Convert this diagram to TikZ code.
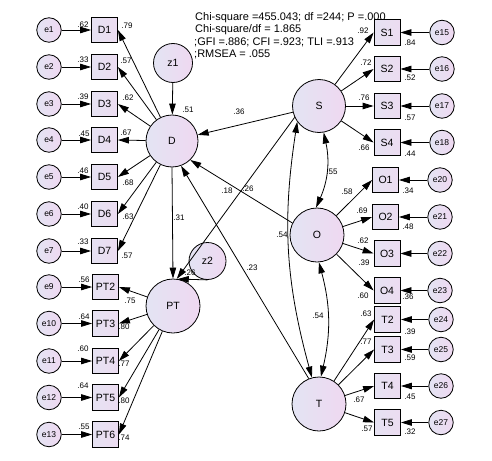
\documentclass[tikz,border=0pt]{standalone}
\usepackage{fontspec}
\setmainfont{Liberation Sans}
\usetikzlibrary{arrows.meta}
\definecolor{lvL}{HTML}{E3E4F3}
\definecolor{lvR}{HTML}{EFD8F1}
\definecolor{bxL}{HTML}{E6E2F2}
\definecolor{bxR}{HTML}{ECDCF1}
\begin{document}
\begin{tikzpicture}[x=1pt,y=-1pt,
  lat/.style={circle,draw,line width=0.8pt,inner sep=0pt,left color=lvL,right color=lvR,font=\fontsize{10.5}{12}\selectfont},
  obs/.style={rectangle,draw,line width=0.8pt,inner sep=0pt,minimum width=26pt,minimum height=25.5pt,left color=bxL,right color=bxR,font=\fontsize{10.5}{12}\selectfont},
  err/.style={circle,draw,line width=0.8pt,inner sep=0pt,minimum size=24.5pt,left color=lvL,right color=lvR,font=\fontsize{8.5}{10}\selectfont},
  lbl/.style={inner sep=0pt,font=\fontsize{8}{9}\selectfont},
  fitline/.style={inner sep=0pt,anchor=base west,font=\fontsize{11}{12}\selectfont},
  reg/.style={line width=0.8pt,-{Triangle[length=11pt,width=6.5pt]}},
  cov/.style={line width=0.8pt,{Triangle[length=11pt,width=6.5pt]}-{Triangle[length=11pt,width=6.5pt]}},
]
\useasboundingbox (0,0) rectangle (492,460);

% fit statistics
\node[fitline] (t1) at (195,20.5) {Chi-square =455.043; df =244; P =.000};
\node[fitline] (t2) at (195,33) {Chi-square/df = 1.865};
\node[fitline] (t3) at (194,45.5) {;GFI =.886; CFI =.923; TLI =.913};
\node[fitline] (t4) at (194,57.5) {;RMSEA = .055};

% latent variables
\node[lat,minimum size=52pt] (D) at (172,141) {D};
\node[lat,minimum size=54pt] (PT) at (173,306) {PT};
\node[lat,minimum size=53pt] (S) at (319,106) {S};
\node[lat,minimum size=54pt] (O) at (317,235) {O};
\node[lat,minimum size=54pt] (T) at (319,404) {T};
\node[lat,minimum size=39pt] (z1) at (173,63) {z1};
\node[lat,minimum size=37pt] (z2) at (207.5,261) {z2};

% D indicators
\node[obs] (D1) at (104.5,30) {D1};
\node[obs] (D2) at (104.5,67) {D2};
\node[obs] (D3) at (104.5,104) {D3};
\node[obs] (D4) at (104.5,140) {D4};
\node[obs] (D5) at (104.5,177) {D5};
\node[obs] (D6) at (104.5,214) {D6};
\node[obs] (D7) at (104.5,251) {D7};
\node[err] (e1) at (49,30) {e1};
\node[err] (e2) at (49,67) {e2};
\node[err] (e3) at (49,104) {e3};
\node[err] (e4) at (49,140) {e4};
\node[err] (e5) at (49,177) {e5};
\node[err] (e6) at (49,214) {e6};
\node[err] (e7) at (49,251) {e7};

% PT indicators
\node[obs] (PT2) at (105.5,287) {PT2};
\node[obs] (PT3) at (105.5,323.5) {PT3};
\node[obs] (PT4) at (105.5,361) {PT4};
\node[obs] (PT5) at (105.5,397.5) {PT5};
\node[obs] (PT6) at (105.5,434.5) {PT6};
\node[err] (e9) at (49,287) {e9};
\node[err] (e10) at (49,323.5) {e10};
\node[err] (e11) at (49,361) {e11};
\node[err] (e12) at (49,397.5) {e12};
\node[err] (e13) at (49,434.5) {e13};

% S indicators
\node[obs] (S1) at (387,32.5) {S1};
\node[obs] (S2) at (387,69) {S2};
\node[obs] (S3) at (387,106) {S3};
\node[obs] (S4) at (387,142.5) {S4};
\node[err] (e15) at (442,32.5) {e15};
\node[err] (e16) at (442,69) {e16};
\node[err] (e17) at (442,106) {e17};
\node[err] (e18) at (442,142.5) {e18};

% O indicators
\node[obs] (O1) at (385.5,180) {O1};
\node[obs] (O2) at (385.5,217) {O2};
\node[obs] (O3) at (387,253.5) {O3};
\node[obs] (O4) at (387,290.5) {O4};
\node[err] (e20) at (440,180) {e20};
\node[err] (e21) at (440,217) {e21};
\node[err] (e22) at (440,253.5) {e22};
\node[err] (e23) at (440,290.5) {e23};

% T indicators
\node[obs] (T2) at (387.5,319.5) {T2};
\node[obs] (T3) at (387.5,349.5) {T3};
\node[obs] (T4) at (387.5,386) {T4};
\node[obs] (T5) at (387.5,422.5) {T5};
\node[err] (e24) at (441,319.5) {e24};
\node[err] (e25) at (441,349.5) {e25};
\node[err] (e26) at (441,386) {e26};
\node[err] (e27) at (441,422.5) {e27};

% error arrows
\foreach \e/\b in {e1/D1,e2/D2,e3/D3,e4/D4,e5/D5,e6/D6,e7/D7,e9/PT2,e10/PT3,e11/PT4,e12/PT5,e13/PT6,
  e15/S1,e16/S2,e17/S3,e18/S4,e20/O1,e21/O2,e22/O3,e23/O4,e24/T2,e25/T3,e26/T4,e27/T5}
  \draw[reg] (\e) -- (\b);

% loadings
\foreach \b in {D1,D2,D3,D4,D5,D6,D7} \draw[reg] (D) -- (\b.east);
\foreach \b in {PT2,PT3,PT4,PT5,PT6} \draw[reg] (PT) -- (\b.east);
\foreach \b in {S1,S2,S3,S4} \draw[reg] (S) -- (\b.west);
\foreach \b in {O1,O2,O3,O4} \draw[reg] (O) -- (\b.west);
\foreach \b in {T2,T3,T4,T5} \draw[reg] (T) -- (\b.west);

% structural paths
\draw[reg] (z1) -- (D);
\draw[reg] (S) -- (D);
\draw[reg] (O.154) -- (D.-46);
\draw[reg] (T.112) -- (D.-70);
\draw[reg] (D.south) -- (PT.north);
\draw[reg] (S.-155) -- (PT.82);
\draw[reg] (z2.south) -- (PT.80);

% covariances
\draw[cov] (S.-80) to[bend left=18] (O.92);
\draw[cov] (O.-86) to[bend left=14] (T.86);
\draw[cov] (S.216) to[bend right=12] (T.105);

% labels: D side
\node[lbl] (a1) at (127,26) {.79};
\node[lbl] (a2) at (126,61) {.57};
\node[lbl] (a3) at (128,98) {.62};
\node[lbl] (a4) at (126,133) {.67};
\node[lbl] (a5) at (128,183) {.68};
\node[lbl] (a6) at (128,217) {.63};
\node[lbl] (a7) at (127,256) {.57};
\node[lbl] (r1) at (83,25) {.62};
\node[lbl] (r2) at (83,60) {.33};
\node[lbl] (r3) at (83,97) {.39};
\node[lbl] (r4) at (84,134) {.45};
\node[lbl] (r5) at (83,171) {.46};
\node[lbl] (r6) at (83,207) {.40};
\node[lbl] (r7) at (83,242) {.33};
% PT side
\node[lbl] (b2) at (130,301) {.75};
\node[lbl] (b3) at (124,327) {.80};
\node[lbl] (b4) at (124,364) {.77};
\node[lbl] (b5) at (124,401) {.80};
\node[lbl] (b6) at (124,438) {.74};
\node[lbl] (q2) at (84,280) {.56};
\node[lbl] (q3) at (84,317) {.64};
\node[lbl] (q4) at (83,349) {.60};
\node[lbl] (q5) at (83,386) {.64};
\node[lbl] (q6) at (84,427) {.55};
% structural labels
\node[lbl] (c1) at (188,110) {.51};
\node[lbl] (c2) at (239,112) {.36};
\node[lbl] (c3) at (227,191) {.18};
\node[lbl] (c4) at (248,189) {.26};
\node[lbl] (c5) at (179,218) {.31};
\node[lbl] (c6) at (252,268) {.23};
\node[lbl] (c7) at (190,273) {.26};
\node[lbl] (c8) at (282,235) {.54};
\node[lbl] (c9) at (332,172) {.55};
\node[lbl] (c10) at (318,316) {.54};
% S side
\node[lbl] (s1) at (363,31) {.92};
\node[lbl] (s2) at (366,63) {.72};
\node[lbl] (s3) at (364,98) {.76};
\node[lbl] (s4) at (364,148) {.66};
\node[lbl] (u1) at (410,43) {.84};
\node[lbl] (u2) at (410,78) {.52};
\node[lbl] (u3) at (410,118) {.57};
\node[lbl] (u4) at (410,154) {.44};
% O side
\node[lbl] (o1) at (347,192) {.58};
\node[lbl] (o2) at (362,211) {.69};
\node[lbl] (o3) at (363,241) {.62};
\node[lbl] (o4) at (364,263) {.39};
\node[lbl] (o5) at (363,296) {.60};
\node[lbl] (v1) at (408,191) {.34};
\node[lbl] (v2) at (408,227) {.48};
\node[lbl] (v4) at (408,297) {.36};
% T side
\node[lbl] (w2) at (366,314) {.63};
\node[lbl] (w3) at (366,342) {.77};
\node[lbl] (w4) at (359,400) {.67};
\node[lbl] (w5) at (367,429) {.57};
\node[lbl] (x2) at (410,332) {.39};
\node[lbl] (x3) at (410,358) {.59};
\node[lbl] (x4) at (410,397) {.45};
\node[lbl] (x5) at (410,432) {.32};
\end{tikzpicture}
\end{document}
